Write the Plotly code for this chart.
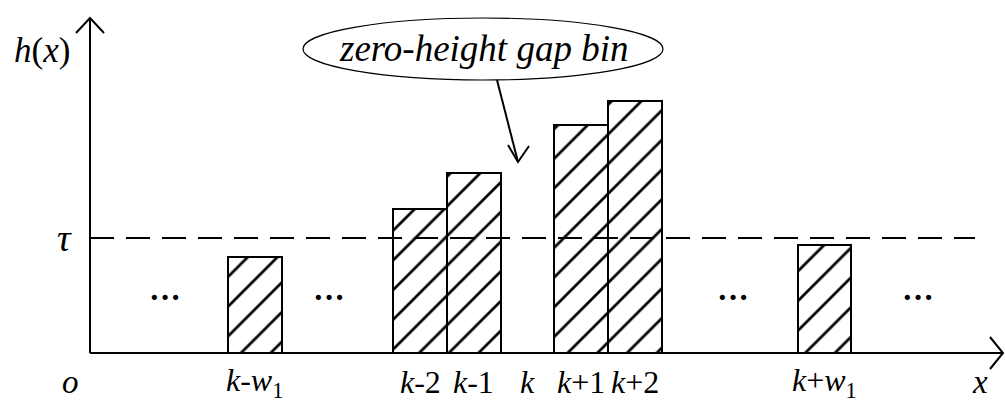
import plotly.graph_objects as go

# Bins around the gap bin k (k = 0 on the x axis)
bin_labels = ["<i>k</i>-<i>w</i><sub>1</sub>", "<i>k</i>-2", "<i>k</i>-1", "<i>k</i>",
              "<i>k</i>+1", "<i>k</i>+2", "<i>k</i>+<i>w</i><sub>1</sub>"]
bin_pos = [-5.08, -2, -1, 0, 1, 2, 5.53]
bin_height = [9.6, 14.4, 18.0, 0, 22.8, 25.2, 10.8]
tau = 11.5
ellipsis_pos = [-6.75, -3.70, 3.82, 7.27]

W, H = 1005, 400
X_RANGE = [-9.823, 8.892]
Y_RANGE = [-4.7, 35.3]
FONT = "Liberation Serif"


def dx(p):
    # pixel column -> x data value
    return X_RANGE[0] + p / W * (X_RANGE[1] - X_RANGE[0])


def dy(p):
    # pixel row -> y data value
    return Y_RANGE[1] - p / H * (Y_RANGE[1] - Y_RANGE[0])


fig = go.Figure()

fig.add_trace(go.Bar(
    x=bin_pos,
    y=bin_height,
    width=1.0,
    marker=dict(
        color="white",
        line=dict(color="black", width=2),
        pattern=dict(shape="/", fgcolor="black", bgcolor="white", fgopacity=1,
                     fillmode="replace", size=21, solidity=0.13),
    ),
    showlegend=False,
    hoverinfo="skip",
))

# axes with open arrowheads
x0_axis = dx(90)
fig.add_shape(type="line", x0=x0_axis, x1=x0_axis, y0=0, y1=dy(18),
              line=dict(color="black", width=2))
fig.add_shape(type="line", x0=x0_axis, x1=dx(1003), y0=0, y1=0,
              line=dict(color="black", width=2))
fig.add_shape(type="path", xsizemode="pixel", ysizemode="pixel",
              xanchor=x0_axis, yanchor=dy(18), path="M -14 -15 L 0 0 L 14 -15",
              line=dict(color="black", width=2))
fig.add_shape(type="path", xsizemode="pixel", ysizemode="pixel",
              xanchor=dx(1003), yanchor=0, path="M -13 16 L 0 0 L -13 -16",
              line=dict(color="black", width=2))

# threshold
fig.add_shape(type="line", x0=x0_axis, x1=dx(975), y0=tau, y1=tau,
              line=dict(color="black", width=2, dash="24px,12px"))

# callout ellipse + arrow
fig.add_shape(type="circle", x0=dx(303), x1=dx(663), y0=dy(18), y1=dy(80),
              line=dict(color="black", width=1.2))
fig.add_shape(type="line", x0=dx(497), y0=dy(80), x1=dx(518), y1=dy(162),
              line=dict(color="black", width=2))
fig.add_shape(type="path", xsizemode="pixel", ysizemode="pixel",
              xanchor=dx(518), yanchor=dy(162), path="M -10 17 L 0 0 L 11 16",
              line=dict(color="black", width=2))
fig.add_annotation(x=dx(483), y=dy(48), text="<i>zero-height gap bin</i>",
                   showarrow=False, font=dict(family=FONT, size=37, color="black"))

# bin labels under the axis
for pos, lab in zip(bin_pos, bin_labels):
    fig.add_annotation(x=pos, y=0, yshift=-29, text=lab, showarrow=False,
                       font=dict(family=FONT, size=32, color="black"))

for pos in ellipsis_pos:
    fig.add_annotation(x=pos, y=dy(297), text="<b>\u00b7\u00b7\u00b7</b>", showarrow=False,
                       font=dict(family=FONT, size=32, color="black"))

fig.add_annotation(x=dx(42), y=dy(50), text="<i>h</i>(<i>x</i>)", showarrow=False,
                   font=dict(family=FONT, size=35, color="black"))
fig.add_annotation(x=dx(64), y=tau, text="<i>\u03c4</i>", showarrow=False,
                   font=dict(family=FONT, size=38, color="black"))
fig.add_annotation(x=dx(70), y=0, yshift=-29, text="<i>o</i>", showarrow=False,
                   font=dict(family=FONT, size=33, color="black"))
fig.add_annotation(x=dx(980), y=0, yshift=-29, text="<i>x</i>", showarrow=False,
                   font=dict(family=FONT, size=33, color="black"))

fig.update_layout(
    width=W, height=H,
    margin=dict(l=0, r=0, t=0, b=0),
    plot_bgcolor="white", paper_bgcolor="white",
    bargap=0,
)
fig.update_xaxes(range=X_RANGE, visible=False, fixedrange=True)
fig.update_yaxes(range=Y_RANGE, visible=False, fixedrange=True)

fig.write_html("out.html", config={"displayModeBar": False},
               post_script="document.body.style.margin='0';")
